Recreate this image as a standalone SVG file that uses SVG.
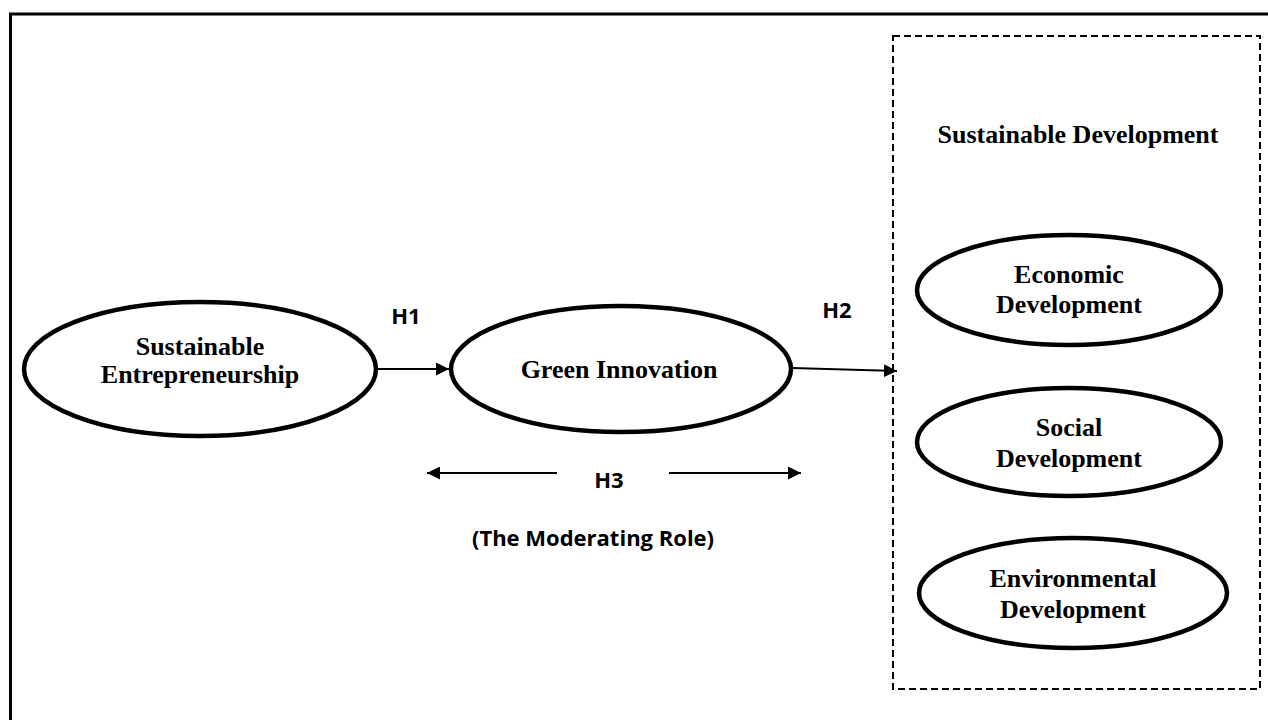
<svg xmlns="http://www.w3.org/2000/svg" width="1268" height="720" viewBox="0 0 1268 720">
<defs>
<style>
.frame{fill:none;stroke:#000;stroke-width:3}
.dash{fill:none;stroke:#000;stroke-width:2;stroke-dasharray:7 4}
.node{fill:#fff;stroke:#000;stroke-width:4.5}
.nt{font-family:"Liberation Serif","Times New Roman",serif;font-weight:bold;font-size:26px;text-anchor:middle;fill:#000}
.lbl{font-family:"Open Sans","Liberation Sans",sans-serif;font-weight:bold;font-size:22px;text-anchor:middle;fill:#000}
.conn{fill:none;stroke:#000;stroke-width:2}
</style>
<marker id="ah" viewBox="0 0 10 10" refX="10" refY="5" markerWidth="6.5" markerHeight="6.5" markerUnits="strokeWidth" orient="auto">
<path d="M0,0 L10,5 L0,10 z" fill="#000"/>
</marker>
</defs>
<rect class="frame" x="10.5" y="14" width="1300" height="760"/>
<g id="sd-box">
<rect class="dash" x="893" y="36" width="367" height="653"/>
<text class="nt" x="1078" y="143">Sustainable Development</text>
</g>
<g id="connectors">
<line class="conn" x1="378" y1="369" x2="449" y2="369" marker-end="url(#ah)"/>
<line class="conn" x1="792" y1="368" x2="897" y2="371" marker-end="url(#ah)"/>
<line class="conn" x1="557" y1="473" x2="427" y2="473" marker-end="url(#ah)"/>
<line class="conn" x1="669" y1="473" x2="801" y2="473" marker-end="url(#ah)"/>
<text class="lbl" x="406" y="324">H1</text>
<text class="lbl" x="837" y="318">H2</text>
<text class="lbl" x="609" y="488">H3</text>
<text class="lbl" x="593" y="546">(The Moderating Role)</text>
</g>
<g id="se">
<ellipse class="node" cx="200" cy="369" rx="176" ry="67"/>
<text class="nt" x="200" y="355">Sustainable</text>
<text class="nt" x="200" y="383">Entrepreneurship</text>
</g>
<g id="gi">
<ellipse class="node" cx="621" cy="369" rx="170" ry="63"/>
<text class="nt" x="619" y="378">Green Innovation</text>
</g>
<g id="ed">
<ellipse class="node" cx="1069" cy="290" rx="152" ry="55"/>
<text class="nt" x="1069" y="283">Economic</text>
<text class="nt" x="1069" y="313">Development</text>
</g>
<g id="sod">
<ellipse class="node" cx="1069" cy="442" rx="152" ry="54"/>
<text class="nt" x="1069" y="436">Social</text>
<text class="nt" x="1069" y="467">Development</text>
</g>
<g id="envd">
<ellipse class="node" cx="1073" cy="593" rx="154" ry="55"/>
<text class="nt" x="1073" y="587">Environmental</text>
<text class="nt" x="1073" y="618">Development</text>
</g>
</svg>
